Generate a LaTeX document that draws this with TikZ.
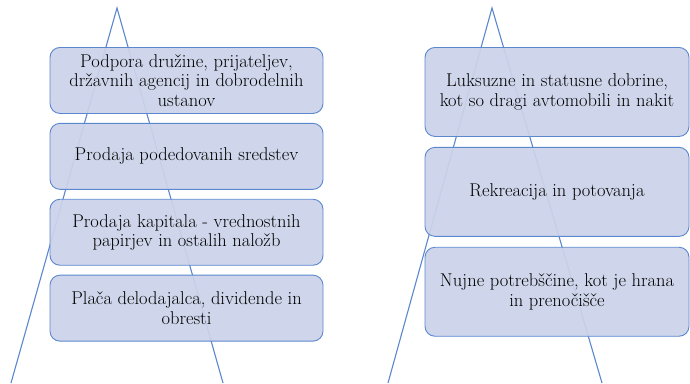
\documentclass[tikz,border=0pt]{standalone}
\usetikzlibrary{positioning}

\definecolor{edgeblue}{RGB}{91,135,206}
\definecolor{boxfill}{RGB}{203,211,233}
\definecolor{baseline}{RGB}{225,240,248}

\begin{document}
\begin{tikzpicture}[x=1pt, y=-1pt,
  level/.style={draw=edgeblue, line width=0.9pt, fill=boxfill, fill opacity=0.93, text opacity=1,
    rounded corners=10pt, align=center, inner sep=2pt,
    font=\fontsize{18.5}{19.5}\selectfont},
  lbox/.style={level, minimum width=273pt, minimum height=66pt},
  rbox/.style={level, minimum width=264pt, minimum height=89pt},
  side/.style={edgeblue, line width=1.1pt}]

  \useasboundingbox (0,0) rectangle (690,383);

  % triangles behind the boxes
  \coordinate (ltop) at (117,8);
  \coordinate (lleft) at (11,383);
  \coordinate (lright) at (223,383);
  \coordinate (rtop) at (492,8);
  \coordinate (rleft) at (388,383);
  \coordinate (rright) at (602,383);

  \draw[side] (lleft) -- (ltop) -- (lright);
  \draw[side] (rleft) -- (rtop) -- (rright);
  \draw[baseline, line width=1pt] ([yshift=-1pt]lleft) -- ([yshift=-1pt]lright);
  \draw[baseline, line width=1pt] ([yshift=-1pt]rleft) -- ([yshift=-1pt]rright);

  % left column
  \node[lbox, anchor=north] (sup) at (186.5,47) {Podpora družine, prijateljev,\\državnih agencij in dobrodelnih\\ustanov};
  \node[lbox, below=9pt of sup] (inherit) {Prodaja podedovanih sredstev};
  \node[lbox, below=9pt of inherit] (capital) {Prodaja kapitala - vrednostnih\\papirjev in ostalih naložb};
  \node[lbox, below=9pt of capital] (wage) {Plača delodajalca, dividende in\\obresti};

  % right column
  \node[rbox, anchor=north] (luxury) at (557,47) {Luksuzne in statusne dobrine,\\kot so dragi avtomobili in nakit};
  \node[rbox, below=10pt of luxury] (leisure) {Rekreacija in potovanja};
  \node[rbox, below=10pt of leisure] (needs) {Nujne potrebščine, kot je hrana\\in prenočišče};

\end{tikzpicture}
\end{document}
